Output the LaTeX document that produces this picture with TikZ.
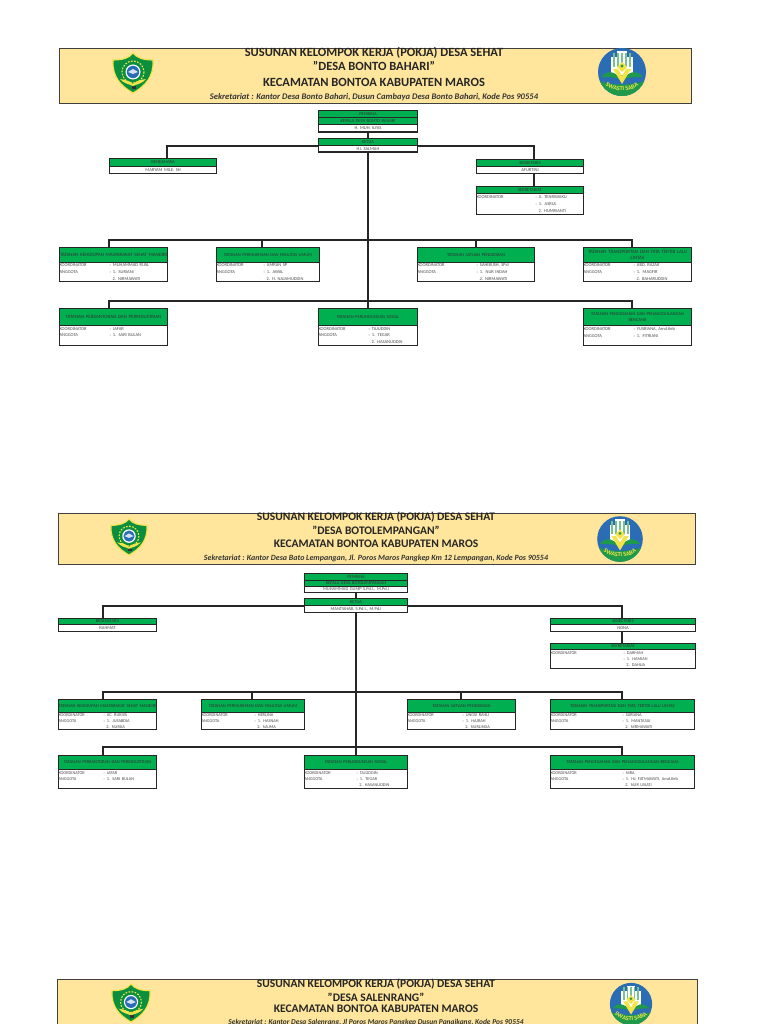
\documentclass[tikz,border=0pt]{standalone}
\usepackage{fontspec}
\setmainfont{Carlito}
\usepackage{xcolor}
\usetikzlibrary{positioning, decorations.text}

\definecolor{bannerfill}{HTML}{FFE69C}
\definecolor{headgreen}{HTML}{00B050}
\definecolor{shieldgreen}{HTML}{0B8F3F}
\definecolor{shieldyellow}{HTML}{F2E34A}
\definecolor{logoblue}{HTML}{2A6DB5}
\definecolor{logogreen}{HTML}{1E9A4A}

\newdimen\pxu
\pxu=0.025cm
\newcommand{\pokjarow}[3]{\makebox[#1\pxu][l]{#2}#3}

\begin{document}
\begin{tikzpicture}[
  x=0.025cm, y=-0.025cm,
  banner/.style={draw=black!75, line width=0.8pt, fill=bannerfill, anchor=north west, inner sep=0pt},
  titleline/.style={font=\fontsize{8.9}{10}\selectfont\bfseries, text=black!85, inner sep=0pt},
  addressline/.style={font=\fontsize{6.1}{7}\selectfont\bfseries\itshape, text=black!80, inner sep=0pt},
  headbox/.style={draw=black!85, line width=0.75pt, fill=headgreen, anchor=north west, inner sep=0pt,
    align=center, font=\fontsize{3.2}{3.9}\selectfont, text=black!80},
  wideline/.style={font=\fontsize{3.5}{3.9}\selectfont},
  namebox/.style={draw=black!85, line width=0.75pt, fill=white, anchor=north west, inner sep=0pt,
    align=center, font=\fontsize{3.2}{3.9}\selectfont, text=black!70},
  rowbox/.style={draw=black!85, line width=0.75pt, fill=white, anchor=north west, inner sep=0pt,
    align=left, font=\fontsize{3.2}{4.9}\selectfont, text=black!70},
  rowboxb/.style={rowbox, font=\fontsize{3.1}{4.2}\selectfont},
  size/.style 2 args={minimum width=#1*0.025cm, minimum height=#2*0.025cm, text width=#1*0.025cm},
  link/.style={draw=black!85, line width=0.85pt},
  pics/shieldlogo/.style={code={
    \draw[shieldyellow, line width=0.8pt, fill=shieldgreen]
      (-20,-13) .. controls (-10,-13) and (-4,-15) .. (0,-20) .. controls (4,-15) and (10,-13) .. (20,-13)
      .. controls (21,4) and (12,13) .. (0,20) .. controls (-12,13) and (-21,4) .. (-20,-13) -- cycle;
    \draw[shieldyellow, line width=0.8pt, dash pattern=on 1.2pt off 1pt] (0,-1) circle (11);
    \fill[white] (0,-1) circle (7.5);
    \fill[logoblue] (0,-1) circle (6.2);
    \fill[white!80!logoblue] (-5,-1) -- (0,-4) -- (5,-1) -- (0,1) -- cycle;
    \fill[shieldyellow] (-13,6) .. controls (-7,7) and (-3,8) .. (0,11) .. controls (3,8) and (7,7) .. (13,6)
      .. controls (9,11) and (4,11) .. (0,13) .. controls (-4,11) and (-9,11) .. (-13,6) -- cycle;
    \fill[black!80] (-1,13) rectangle (3,16);
  }},
  pics/swastilogo/.style={code={
    \fill[logoblue] (0,0) circle (24);
    \fill[white] (-11,-15) rectangle (11,3);
    \fill[white] (-5,-21) rectangle (5,-15);
    \foreach \stripe in {-9,-5,-1,3,7} {\fill[logogreen!60!white] (\stripe,-19) rectangle (\stripe+2,-5);}
    \fill[logogreen] (-21,5) .. controls (-14,-3) and (-6,0) .. (-2,7) .. controls (-8,5) and (-14,5) .. (-21,5) -- cycle;
    \fill[logogreen] (21,5) .. controls (14,-3) and (6,0) .. (2,7) .. controls (8,5) and (14,5) .. (21,5) -- cycle;
    \fill[shieldyellow] (-9,-3) -- (0,12) -- (9,-3) -- (4,-3) -- (0,4) -- (-4,-3) -- cycle;
    \fill[shieldyellow] (0,-10) -- (5,-5) -- (0,0) -- (-5,-5) -- cycle;
    \fill[logogreen] (0,-6) circle (1.6);
    \begin{scope}
      \clip (0,0) circle (24);
      \fill[logogreen] (-26,8) .. controls (-10,14) and (10,14) .. (26,8) -- (26,26) -- (-26,26) -- cycle;
    \end{scope}
    \path[postaction={decorate, decoration={text along path, text align=center,
      text={|\fontsize{4.4}{5}\selectfont\bfseries\color{shieldyellow}|SWASTI SABA}}}]
      (-19,12) .. controls (-9,21) and (9,21) .. (19,12);
  }}
]
\useasboundingbox (0,0) rectangle (768,1024);

% first village
\node[banner, size={632}{55}] (bannera) at (59,48) {};
\pic at (133,73) {shieldlogo};
\pic at (622,72) {swastilogo};
\node[titleline] (titleaa) at (374,53) {SUSUNAN KELOMPOK KERJA (POKJA) DESA SEHAT};
\node[titleline] (titleab) at (374,66) {"DESA BONTO BAHARI"};
\node[titleline] (titleac) at (374,82) {KECAMATAN BONTOA KABUPATEN MAROS};
\node[addressline] (titlead) at (374,97) {Sekretariat : Kantor Desa Bonto Bahari, Dusun Cambaya Desa Bonto Bahari, Kode Pos 90554};

\node[headbox, size={99}{7}] (pembinaa) at (318,110) {PEMBINA};
\node[headbox, size={99}{7}] (kadesa) at (318,117) {KEPALA DESA BONTO BAHARI};
\node[namebox, size={99}{7.5}] (kadesnamaa) at (318,124) {H. MUH. ILYAS};
\node[headbox, size={99}{7}] (ketuaa) at (318,138) {KETUA};
\node[namebox, size={99}{6.5}] (ketuanamaa) at (318,145) {HJ. SALMAH};

\node[headbox, size={107}{8}] (bendaharaa) at (109,158) {BENDAHARA};
\node[namebox, size={107}{7}] (bendaharanamaa) at (109,166) {MARYAM MILE, SH};
\node[headbox, size={107}{7}] (sekretarisa) at (476,159) {SEKRETARIS};
\node[namebox, size={107}{7}] (sekretarisnamaa) at (476,166) {AFURTINI};
\node[headbox, size={107}{7}] (sekretariata) at (476,186) {SEKRETARIAT};
\node[rowbox, size={107}{21}] (sekretariatisia) at (476,193)
  {\pokjarow{59}{KOORDINATOR}{: A. TENRIWAKU}\\\pokjarow{59}{}{: 1. ASRUL}\\\pokjarow{59}{}{\ \ 2. HUMRIANTI}};

\node[headbox, wideline, size={108}{15}] (sehata) at (59,247) {TATANAN KEHIDUPAN MASYARAKAT SEHAT MANDIRI};
\node[rowbox, size={108}{19}] (sehatisia) at (59,262)
  {\pokjarow{50}{KOORDINATOR}{: MUHAMMAD RIJAL}\\\pokjarow{50}{ANGGOTA}{: 1. SURIANI}\\\pokjarow{50}{}{\ \ 2. NIRMAWATI}};
\node[headbox, size={103}{15}] (mukima) at (216,247) {TATANAN PERMUKIMAN DAN FASILITAS UMUM};
\node[rowbox, size={103}{19}] (mukimisia) at (216,262)
  {\pokjarow{47}{KOORDINATOR}{: AMRAN SP}\\\pokjarow{47}{ANGGOTA}{: 1. AWAL}\\\pokjarow{47}{}{\ \ 2. H. NAJAMUDDIN}};
\node[headbox, size={117}{15}] (didika) at (417,247) {TATANAN SATUAN PENDIDIKAN};
\node[rowbox, size={117}{19}] (didikisia) at (417,262)
  {\pokjarow{59}{KOORDINATOR}{: SAHIBUSH, SP.d}\\\pokjarow{59}{ANGGOTA}{: 1. NUR INDAH}\\\pokjarow{59}{}{\ \ 2. NIRMAWATI}};
\node[headbox, wideline, size={108}{15}] (lalina) at (583,247) {TATANAN TRANSPORTASI DAN TATA TERTIB LALU\\LINTAS};
\node[rowbox, size={108}{19}] (lalinisia) at (583,262)
  {\pokjarow{50}{KOORDINATOR}{: ABD. RAZAK}\\\pokjarow{50}{ANGGOTA}{: 1. MAGFIR}\\\pokjarow{50}{}{\ \ 2. BAHARUDDIN}};

\node[headbox, wideline, size={108}{17}] (kantora) at (59,308) {TATANAN PERKANTORAN DAN PERINDUSTRIAN};
\node[rowbox, size={108}{20}] (kantorisia) at (59,325)
  {\pokjarow{50}{KOORDINATOR}{: JAFAR}\\\pokjarow{50}{ANGGOTA}{: 1. SARI BULAN}\\\mbox{}};
\node[headbox, size={99}{17}] (sosiala) at (318,308) {TATANAN PERLINDUNGAN SOSIAL};
\node[rowbox, size={99}{20}] (sosialisia) at (318,325)
  {\pokjarow{50}{KOORDINATOR}{: TAJUDDIN}\\\pokjarow{50}{ANGGOTA}{: 1. TEGAR}\\\pokjarow{50}{}{\ \ 2. HASANUDDIN}};
\node[headbox, size={108}{17}] (bencanaa) at (583,308) {TATANAN PENCEGAHAN DAN PENANGGULANGAN\\BENCANA};
\node[rowbox, size={108}{20}] (bencanaisia) at (583,325)
  {\pokjarow{50}{KOORDINATOR}{: YUSRIANA, Amd.Keb}\\\pokjarow{50}{ANGGOTA}{: 1. FITRIANI}\\\mbox{}};

\coordinate (bendtopa) at (167,158);
\coordinate (sekrtopa) at (534,159);
\coordinate (busaa) at (368,240);
\coordinate (busab) at (368,301);
\coordinate (dropaa) at (109,247);
\coordinate (dropab) at (262,247);
\coordinate (dropac) at (476,247);
\coordinate (dropad) at (632,247);
\coordinate (dropba) at (109,308);
\coordinate (dropbd) at (632,308);
\draw[link] (kadesnamaa) -- (ketuaa);
\draw[link] (ketuaa.south west) -| (bendtopa);
\draw[link] (ketuaa.south east) -| (sekrtopa);
\draw[link] (sekretarisnamaa.south -| sekrtopa) -- (sekretariata.north -| sekrtopa);
\draw[link] (ketuanamaa) -- (sosiala);
\draw[link] (dropaa) -- (dropaa |- busaa) -- (dropad |- busaa) -- (dropad);
\draw[link] (dropab) -- (dropab |- busaa);
\draw[link] (dropac) -- (dropac |- busaa);
\draw[link] (dropba) -- (dropba |- busab) -- (dropbd |- busab) -- (dropbd);

% second village
\node[banner, size={637}{51}] (bannerb) at (58,513) {};
\pic[scale=0.9] at (129,537) {shieldlogo};
\pic[scale=0.95] at (620,539) {swastilogo};
\node[titleline, font=\fontsize{8.2}{10}\selectfont\bfseries] (titleba) at (376,517) {SUSUNAN KELOMPOK KERJA (POKJA) DESA SEHAT};
\node[titleline, font=\fontsize{8.2}{10}\selectfont\bfseries] (titlebb) at (376,530) {"DESA BOTOLEMPANGAN"};
\node[titleline, font=\fontsize{8.2}{10}\selectfont\bfseries] (titlebc) at (376,544) {KECAMATAN BONTOA KABUPATEN MAROS};
\node[addressline, font=\fontsize{5.65}{7}\selectfont\bfseries\itshape] (titlebd) at (376,558) {Sekretariat : Kantor Desa Bato Lempangan, Jl. Poros Maros Pangkep Km 12 Lempangan, Kode Pos 90554};

\node[headbox, size={103}{7}] (pembinab) at (304,573) {PEMBINA};
\node[headbox, size={103}{6}] (kadesb) at (304,580) {KEPALA DESA BOTOLEMPANGAN};
\node[namebox, size={103}{6}] (kadesnamab) at (304,586) {MUHAMMAD GUMP S.Pd.I., M.Pd.I};
\node[headbox, size={103}{7}] (ketuab) at (304,598) {KETUA};
\node[namebox, size={103}{7}] (ketuanamab) at (304,605) {MANTSIHAB, S.Pd.I., M.Pd.I};

\node[headbox, size={98}{6}] (bendaharab) at (58,618) {BENDAHARA};
\node[namebox, size={98}{7}] (bendaharanamab) at (58,624) {RAHMAT};
\node[headbox, size={145}{6}] (sekretarisb) at (550,618) {SEKRETARIS};
\node[namebox, size={145}{7}] (sekretarisnamab) at (550,624) {NONA};
\node[headbox, size={145}{6}] (sekretariatb) at (550,643) {SEKRETARIAT};
\node[rowboxb, size={145}{19}] (sekretariatisib) at (550,649)
  {\pokjarow{73}{KOORDINATOR}{: DARMAH}\\\pokjarow{73}{}{: 1. HAMIAH}\\\pokjarow{73}{}{\ \ 2. DAHLIA}};

\node[headbox, size={98}{13}] (sehatb) at (58,699) {TATANAN KEHIDUPAN MASYARAKAT SEHAT MANDIRI};
\node[rowboxb, size={98}{17}] (sehatisib) at (58,712)
  {\pokjarow{45}{KOORDINATOR}{: AC. RUKIYA}\\\pokjarow{45}{ANGGOTA}{: 1. JUSABDIA}\\\pokjarow{45}{}{\ \ 2. NURJIA}};
\node[headbox, size={103}{13}] (mukimb) at (201,699) {TATANAN PERMUKIMAN DAN FASILITAS UMUM};
\node[rowboxb, size={103}{17}] (mukimisib) at (201,712)
  {\pokjarow{53}{KOORDINATOR}{: HERLINA}\\\pokjarow{53}{ANGGOTA}{: 1. HASNAH}\\\pokjarow{53}{}{\ \ 2. NAJMA}};
\node[headbox, size={108}{13}] (didikb) at (407,699) {TATANAN SATUAN PENDIDIKAN};
\node[rowboxb, size={108}{17}] (didikisib) at (407,712)
  {\pokjarow{55}{KOORDINATOR}{: UNGSI RAHLI}\\\pokjarow{55}{ANGGOTA}{: 1. HAJRAH}\\\pokjarow{55}{}{\ \ 2. NURLINDA}};
\node[headbox, size={144}{13}] (lalinb) at (550,699) {TATANAN TRANSPORTASI DAN TATA TERTIB LALU LINTAS};
\node[rowboxb, size={144}{17}] (lalinisib) at (550,712)
  {\pokjarow{72}{KOORDINATOR}{: SARIANA}\\\pokjarow{72}{ANGGOTA}{: 1. MANTASIA}\\\pokjarow{72}{}{\ \ 2. NIRMAWATI}};

\node[headbox, size={98}{14}] (kantorb) at (58,755) {TATANAN PERKANTORAN DAN PERINDUSTRIAN};
\node[rowboxb, size={98}{19}] (kantorisib) at (58,769)
  {\pokjarow{45}{KOORDINATOR}{: JAFAR}\\\pokjarow{45}{ANGGOTA}{: 1. SARI BULAN}\\\mbox{}};
\node[headbox, size={103}{14}] (sosialb) at (304,755) {TATANAN PERLINDUNGAN SOSIAL};
\node[rowboxb, size={103}{19}] (sosialisib) at (304,769)
  {\pokjarow{52}{KOORDINATOR}{: TAJUDDIN}\\\pokjarow{52}{ANGGOTA}{: 1. TEGAR}\\\pokjarow{52}{}{\ \ 2. HASANUDDIN}};
\node[headbox, size={144}{14}] (bencanab) at (550,755) {TATANAN PENCEGAHAN DAN PENANGGULANGAN BENCANA};
\node[rowboxb, size={144}{19}] (bencanaisib) at (550,769)
  {\pokjarow{72}{KOORDINATOR}{: NIRA}\\\pokjarow{72}{ANGGOTA}{: 1. HJ. FATMAWATI, Amd.Keb}\\\pokjarow{72}{}{\ \ 2. NUR USIATI}};

\coordinate (bendtopb) at (103,618);
\coordinate (sekrtopb) at (622,618);
\coordinate (busba) at (356,692);
\coordinate (busbb) at (356,747);
\coordinate (dropca) at (103,699);
\coordinate (dropcb) at (252,699);
\coordinate (dropcc) at (461,699);
\coordinate (dropcd) at (622,699);
\coordinate (dropda) at (103,755);
\coordinate (dropdd) at (622,755);
\draw[link] (kadesnamab) -- (ketuab);
\draw[link] (ketuab.south west) -| (bendtopb);
\draw[link] (ketuab.south east) -| (sekrtopb);
\draw[link] (sekretarisnamab.south -| sekrtopb) -- (sekretariatb.north -| sekrtopb);
\draw[link] (ketuanamab) -- (sosialb);
\draw[link] (dropca) -- (dropca |- busba) -- (dropcd |- busba) -- (dropcd);
\draw[link] (dropcb) -- (dropcb |- busba);
\draw[link] (dropcc) -- (dropcc |- busba);
\draw[link] (dropda) -- (dropda |- busbb) -- (dropdd |- busbb) -- (dropdd);

% third village, cut by the page
\node[banner, size={640}{60}] (bannerc) at (57,979) {};
\pic[scale=0.95] at (131,1003) {shieldlogo};
\pic[scale=0.88] at (631,1004) {swastilogo};
\node[titleline, font=\fontsize{8.2}{10}\selectfont\bfseries] (titleca) at (376,984) {SUSUNAN KELOMPOK KERJA (POKJA) DESA SEHAT};
\node[titleline, font=\fontsize{8.2}{10}\selectfont\bfseries] (titlecb) at (376,997) {"DESA SALENRANG"};
\node[titleline, font=\fontsize{8.2}{10}\selectfont\bfseries] (titlecc) at (376,1009) {KECAMATAN BONTOA KABUPATEN MAROS};
\node[addressline, font=\fontsize{5.3}{7}\selectfont\bfseries\itshape] (titlecd) at (376,1022) {Sekretariat : Kantor Desa Salenrang, Jl Poros Maros Pangkep Dusun Panaikang, Kode Pos 90554};
\end{tikzpicture}
\end{document}
